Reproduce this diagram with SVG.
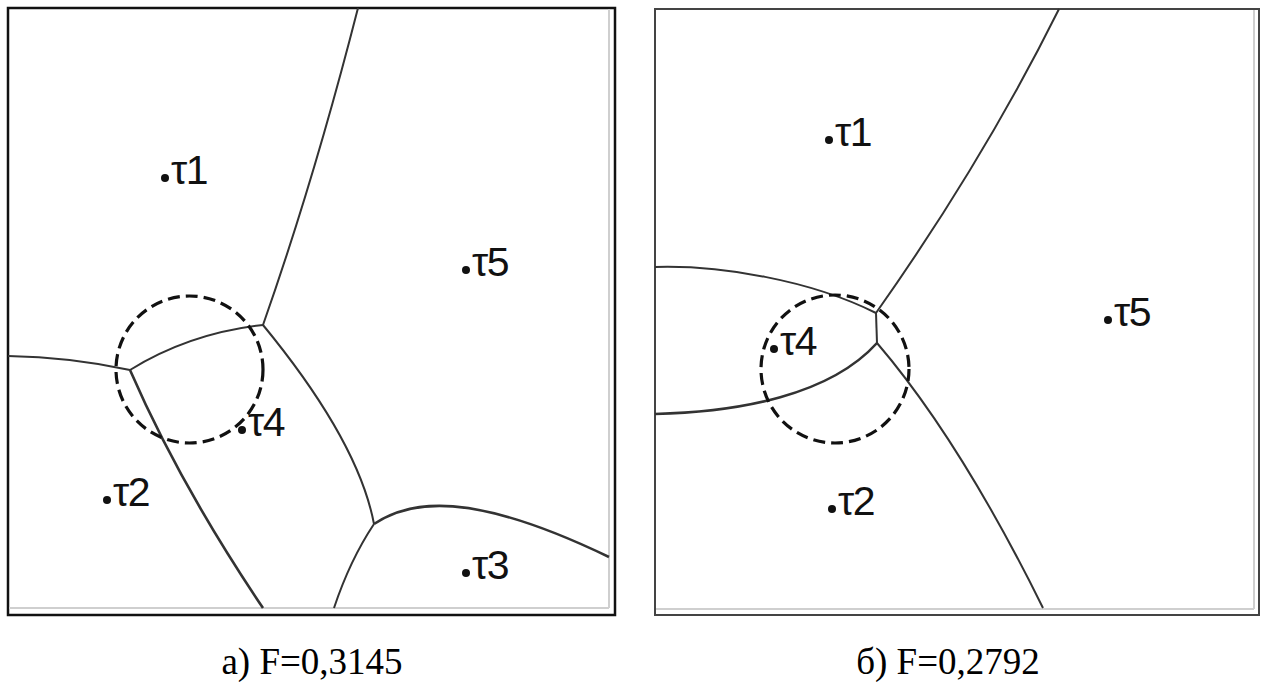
<svg xmlns="http://www.w3.org/2000/svg" width="1262" height="682" viewBox="0 0 1262 682">
<style>
.frame{fill:none;stroke:#111;stroke-width:2.5}
.frame2{fill:none;stroke:#444;stroke-width:2}
.inner{fill:none;stroke:#cfcfcf;stroke-width:2}
.edge{fill:none;stroke:#333;stroke-width:2}
.thick{fill:none;stroke:#333;stroke-width:2.6}
.dash{fill:none;stroke:#111;stroke-width:3.2;stroke-dasharray:12 6}
.pt{fill:#111}
.lbl{font-family:"Liberation Sans",Arial,sans-serif;font-size:41px;letter-spacing:-1.5px;fill:#111}
.cap{font-family:"Liberation Serif","Times New Roman",serif;font-size:37px;fill:#000;text-anchor:middle}
</style>
<rect width="1262" height="682" fill="#fff"/>
<g id="panel-a">
<rect class="frame" x="8" y="8" width="607" height="607"/>
<path class="inner" d="M609,9 V608 M9,608 H609"/>
</g>
<g id="panel-b">
<rect class="frame2" x="655" y="9" width="604" height="606"/>
<path class="inner" d="M1254,10 V609 M656,609 H1254"/>
</g>
<g id="connectors">
<path class="edge" d="M358,8 Q314,180 263,325"/>
<path class="edge" d="M263,325 Q190,333 130,370"/>
<path class="edge" d="M130,370 Q70,357 8,356"/>
<path class="thick" d="M130,370 Q180,485 263,608"/>
<path class="edge" d="M263,325 C300,370 360,450 374,524"/>
<path class="thick" d="M374,524 C410,500 470,490 609,557"/>
<path class="edge" d="M374,524 Q350,560 334,608"/>
<path class="edge" d="M1059,9 Q984,160 876,313"/>
<path class="edge" d="M876,313 L877,343"/>
<path class="edge" d="M655,267 C720,265 810,280 876,313"/>
<path class="thick" d="M655,414 C740,412 830,395 877,343"/>
<path class="edge" d="M877,343 Q960,440 1043,608"/>
</g>
<g id="circle-a"><circle class="dash" cx="189.5" cy="369.5" r="73.5"/></g>
<g id="circle-b"><circle class="dash" cx="835" cy="369" r="74"/></g>
<g id="a-t1"><circle class="pt" cx="165" cy="178" r="4"/><text class="lbl" x="171" y="184">τ1</text></g>
<g id="a-t5"><circle class="pt" cx="466" cy="270" r="4"/><text class="lbl" x="472" y="276">τ5</text></g>
<g id="a-t4"><circle class="pt" cx="242" cy="430" r="4"/><text class="lbl" x="248" y="436">τ4</text></g>
<g id="a-t2"><circle class="pt" cx="107" cy="500" r="4"/><text class="lbl" x="113" y="506">τ2</text></g>
<g id="a-t3"><circle class="pt" cx="466" cy="573" r="4"/><text class="lbl" x="472" y="579">τ3</text></g>
<g id="b-t1"><circle class="pt" cx="829" cy="140" r="4"/><text class="lbl" x="835" y="146">τ1</text></g>
<g id="b-t5"><circle class="pt" cx="1108" cy="320" r="4"/><text class="lbl" x="1114" y="326">τ5</text></g>
<g id="b-t4"><circle class="pt" cx="774" cy="349" r="4"/><text class="lbl" x="780" y="355">τ4</text></g>
<g id="b-t2"><circle class="pt" cx="832" cy="509" r="4"/><text class="lbl" x="838" y="515">τ2</text></g>
<text class="cap" x="312" y="674">а) F=0,3145</text>
<text class="cap" x="948" y="674">б) F=0,2792</text>
</svg>
